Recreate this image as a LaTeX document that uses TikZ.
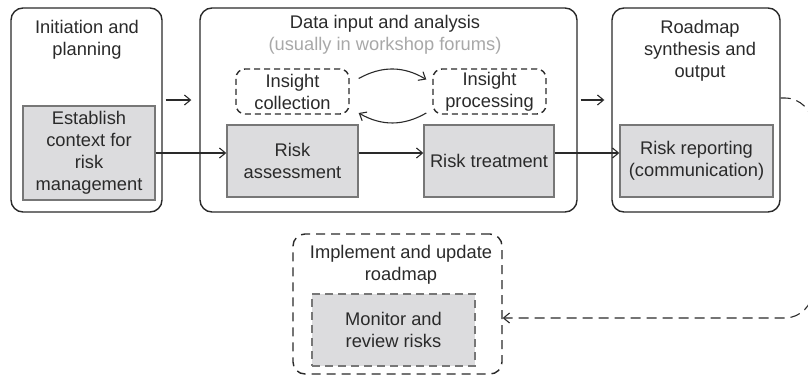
\documentclass[tikz,border=0pt]{standalone}
\usepackage{fontspec}
\setmainfont{Liberation Sans}
\usetikzlibrary{arrows.meta,calc}
\definecolor{txt}{HTML}{2A2A2A}
\definecolor{boxfill}{HTML}{DCDCDE}
\definecolor{boxline}{HTML}{777777}
\definecolor{subgray}{HTML}{A8A8A8}
\begin{document}
\begin{tikzpicture}[x=1pt,y=-1pt,
  every node/.style={font=\fontsize{18.3}{22}\selectfont, text=txt, align=center, inner sep=0pt},
  outerbox/.style={draw=txt, line width=1.4pt, rounded corners=12pt},
  outerdash/.style={draw=txt, line width=1.4pt, rounded corners=12pt, dash pattern=on 9pt off 6pt},
  graybox/.style={draw=boxline, fill=boxfill, line width=1.4pt},
  graydash/.style={draw=boxline, fill=boxfill, line width=1.4pt, dash pattern=on 8pt off 5pt},
  insbox/.style={draw=txt, line width=1.4pt, rounded corners=9pt, dash pattern=on 6pt off 4pt},
  arr/.style={draw=txt, line width=1.1pt, -{Straight Barb[length=6pt,width=10pt,line width=1.1pt]}},
  dasharr/.style={draw=txt, line width=1.1pt, dash pattern=on 10pt off 6pt, -{Straight Barb[length=6pt,width=10pt,line width=1.1pt]}}
]
\useasboundingbox (0,0) rectangle (808,378);

% outer boxes
\node[outerbox, minimum width=151pt, minimum height=204pt] (b1) at (86.5,110) {};
\node[outerbox, minimum width=377pt, minimum height=204pt] (b2) at (388.5,110) {};
\node[outerbox, minimum width=168pt, minimum height=204pt] (b3) at (696,110) {};
\node[outerdash, minimum width=209pt, minimum height=140pt] (b4) at (397.5,304) {};

% titles
\node (t1) at (87,40) {Initiation and\\planning};
\node (t2) at (385,24) {Data input and analysis};
\node[text=subgray] (t2b) at (385,46) {(usually in workshop forums)};
\node (t3) at (700,51) {Roadmap\\synthesis and\\output};
\node (t4) at (401,265) {Implement and update\\roadmap};

% inner boxes
\node[graybox, minimum width=132pt, minimum height=94pt] (est) at (89,153) {Establish\\context for\\risk\\management};
\node[insbox, minimum width=113pt, minimum height=45pt] (ic) at (292.5,91.5) {Insight\\collection};
\node[insbox, minimum width=113pt, minimum height=45pt] (ip) at (489.5,91.5) {Insight\\processing};
\node[graybox, minimum width=131pt, minimum height=72pt] (ra) at (292.5,161) {Risk\\assessment};
\node[graybox, minimum width=130pt, minimum height=72pt] (rt) at (489,161) {Risk treatment};
\node[graybox, minimum width=153pt, minimum height=72pt] (rr) at (696.5,161) {Risk reporting\\(communication)};
\node[graydash, minimum width=163pt, minimum height=72pt] (mr) at (393.5,330) {Monitor and\\review risks};

% arrows between phases
\draw[arr, shorten <=3pt, shorten >=8pt] ([yshift=10pt]b1.east) -- ([yshift=10pt]b2.west);
\draw[arr, shorten <=3pt, shorten >=7pt] ([yshift=10pt]b2.east) -- ([yshift=10pt]b3.west);

% main flow
\draw[arr] (est.east) -- (est.east -| ra.west);
\draw[arr] (est.east -| ra.east) -- (est.east -| rt.west);
\draw[arr] (est.east -| rt.east) -- (est.east -| rr.west);

% insight loop
\draw[arr] ([xshift=9pt,yshift=13pt]ic.east) to[bend left=30] ([xshift=-6pt,yshift=12pt]ip.west);
\draw[arr] ([xshift=-6pt,yshift=-21.5pt]ip.west) to[bend left=30] ([xshift=9pt,yshift=-21.5pt]ic.east);

% return loop
\draw[dasharr, rounded corners=28pt] ([yshift=12pt]b3.east) -- ++(32,0) |- ([yshift=-14pt]b4.east);
\end{tikzpicture}
\end{document}
